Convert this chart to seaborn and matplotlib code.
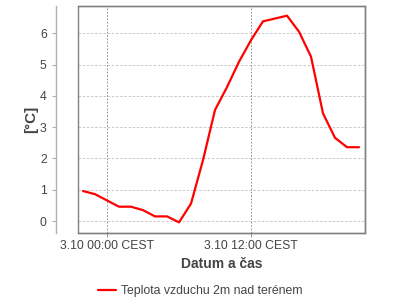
import matplotlib
matplotlib.use("Agg")
import matplotlib.pyplot as plt
from matplotlib.patches import Rectangle
import seaborn as sns
import pandas as pd

# hours relative to 3.10 00:00 CEST
hours = [-2, -1, 0, 1, 2, 3, 4, 5, 6, 7, 8, 9, 10, 11, 12, 13, 14, 15, 16, 17, 18, 19, 20, 21]
temps = [0.96, 0.86, 0.66, 0.46, 0.46, 0.35, 0.15, 0.15, -0.04, 0.56, 1.95, 3.55,
         4.28, 5.09, 5.78, 6.38, 6.47, 6.56, 6.05, 5.25, 3.44, 2.66, 2.36, 2.36]
x_ticks = [0, 12]
x_tick_labels = ["3.10 00:00 CEST", "3.10 12:00 CEST"]
y_ticks = [0, 1, 2, 3, 4, 5, 6]
series_name = "Teplota vzduchu 2m nad terénem"

df = pd.DataFrame({"hour": hours, "temp": temps, "series": series_name})

sns.set_style("white")
plt.rcParams["font.family"] = ["Liberation Sans", "DejaVu Sans"]

fig = plt.figure(figsize=(4, 3), dpi=100)
ax = fig.add_axes([78 / 400, (300 - 233) / 300, 287 / 400, 227 / 300])

sns.lineplot(data=df, x="hour", y="temp", hue="series", palette=["#ff0000"],
             linewidth=1.6, ax=ax, legend=True)

ax.set_xlim(-2.42, 21.5)
ax.set_ylim(-0.38, 6.87)
ax.set_xticks(x_ticks)
ax.set_xticklabels(x_tick_labels)
ax.set_yticks(y_ticks)

ax.grid(False)
for yv in y_ticks:
    ax.axhline(yv, color="#c0c0c0", lw=0.6, ls=(0, (3, 2)), zorder=0)
for xv in x_ticks:
    ax.axvline(xv, color="#808080", lw=0.6, ls=(0, (2, 2)), zorder=0)

for s in ["top", "right", "bottom"]:
    ax.spines[s].set_color("#808080")
    ax.spines[s].set_linewidth(1.0)
ax.spines["left"].set_position(("outward", 16))
ax.spines["left"].set_color("#b0b0b0")
ax.spines["left"].set_linewidth(1.0)
ax.add_patch(Rectangle((0, 0), 1, 1, transform=ax.transAxes, fill=False,
                       edgecolor="#808080", lw=1.0, clip_on=False, zorder=5))

ax.tick_params(axis="y", left=True, length=3, width=0.8, color="#b0b0b0",
               labelsize=8.8, labelcolor="#444444", pad=3.5)
ax.tick_params(axis="x", bottom=True, length=3, width=0.6, color="#808080",
               labelsize=8.8, labelcolor="#444444", pad=2)

ax.set_xlabel("Datum a čas", fontsize=10, fontweight="bold", color="#444444", labelpad=4)
ax.set_ylabel("[°C]", fontsize=11, fontweight="bold", color="#444444", labelpad=1)

leg = ax.legend(loc="upper center", bbox_to_anchor=(200 / 400, 26 / 300),
                bbox_transform=fig.transFigure, frameon=False, fontsize=8.8,
                handlelength=1.5, handletextpad=0.4)
for t in leg.get_texts():
    t.set_color("#444444")

fig.savefig("out.png", dpi=100)
